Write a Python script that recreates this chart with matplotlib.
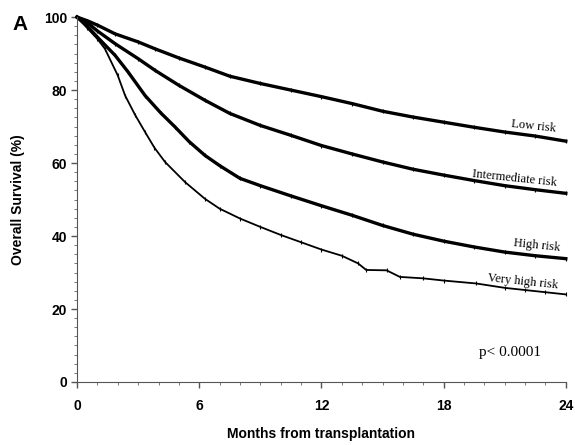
import numpy as np
import matplotlib
matplotlib.use("Agg")
import matplotlib.pyplot as plt
from matplotlib.ticker import MultipleLocator

plt.rcdefaults()

# survival curves (months, % alive)
low_months = [0, 0.5, 1, 1.87, 3, 3.83, 5, 6.28, 7.5, 9, 10.5, 12, 13.5, 15, 16.5, 18, 19.5, 21, 22.5, 24]
low_surv = [100, 99, 97.8, 95.4, 93.2, 91.3, 88.8, 86.3, 83.8, 81.8, 80, 78.2, 76.3, 74.2, 72.6, 71.2, 69.8, 68.5, 67.4, 66.0]

int_months = [0, 0.5, 1, 1.87, 3, 3.83, 5, 6.28, 7.5, 9, 10.5, 12, 13.5, 15, 16.5, 18, 19.5, 21, 22.5, 24]
int_surv = [100, 98.5, 96.2, 92.7, 88.6, 85.4, 81.3, 77.2, 73.6, 70.3, 67.6, 64.8, 62.5, 60.3, 58.3, 56.7, 55.2, 53.8, 52.7, 51.7]

high_months = [0, 0.5, 1, 1.87, 2.5, 3.34, 4.1, 4.81, 5.5, 6.28, 7, 8, 9, 10.5, 12, 13.5, 15, 16.5, 18, 19.5, 21, 22.5, 24]
high_surv = [100, 97.5, 94.5, 89.5, 85, 78.5, 73.8, 69.9, 65.9, 62.1, 59.3, 55.8, 53.8, 51, 48.3, 45.7, 42.9, 40.5, 38.6, 37, 35.6, 34.6, 33.8]

vhigh_months = [0, 0.5, 1, 1.37, 2, 2.36, 2.85, 3.34, 3.8, 4.32, 5.3, 6.28, 7, 8, 9, 10, 11, 12, 13, 13.8, 14.2, 15.2,
                15.85, 17, 18, 19.6, 21, 22, 23, 24]
vhigh_surv = [100, 97, 94, 91.3, 84, 78.5, 73.2, 68.5, 64.2, 60.3, 54.8, 50.2, 47.5, 44.8, 42.5, 40.3, 38.3, 36.3, 34.6,
              32.5, 30.7, 30.6, 28.8, 28.4, 27.8, 27, 25.8, 25.2, 24.6, 24.0]

risk_labels = ["Low risk", "Intermediate risk", "High risk", "Very high risk"]
label_pos = [(22.4, 70.1), (21.5, 55.9), (22.6, 37.5), (21.9, 27.4)]

fig = plt.figure(figsize=(5.75, 4.45), dpi=100)
ax = fig.add_axes([0.134, 0.1416, 0.850, 0.820])

curves = [(low_months, low_surv, 2.4), (int_months, int_surv, 2.4),
          (high_months, high_surv, 2.4), (vhigh_months, vhigh_surv, 1.3)]
for m, s, lw in curves:
    ax.plot(m, s, color="black", lw=lw, clip_on=False, solid_joinstyle="round",
            marker="|", markersize=3.5, markeredgewidth=0.8)

for lab, (x, y) in zip(risk_labels, label_pos):
    ax.text(x, y, lab, fontsize=9, family="Liberation Serif", ha="center",
            va="center", rotation=-6)

ax.text(21.25, 8.2, "p< 0.0001", fontsize=11, family="Liberation Serif",
        ha="center", va="center")

ax.set_xlim(0, 24)
ax.set_ylim(0, 100)
ax.spines["top"].set_visible(False)
ax.spines["right"].set_visible(False)
ax.spines["left"].set_color("#555555")
ax.spines["bottom"].set_color("#555555")

ax.xaxis.set_major_locator(MultipleLocator(6))
ax.xaxis.set_minor_locator(MultipleLocator(1))
ax.yaxis.set_major_locator(MultipleLocator(20))
ax.yaxis.set_minor_locator(MultipleLocator(2.5))
ax.tick_params(which="major", length=4, width=1, color="#555555", pad=8)
ax.tick_params(which="minor", length=2, width=0.7, color="#777777")
for t in ax.get_xticklabels() + ax.get_yticklabels():
    t.set_fontfamily("Liberation Sans")
    t.set_fontweight("bold")
    t.set_fontsize(10)
ax.tick_params(axis="y", pad=3)

ax.set_xlabel("Months from transplantation", fontsize=10, fontweight="bold",
              family="Liberation Sans", labelpad=10)
ax.set_ylabel("Overall Survival (%)", fontsize=10, fontweight="bold",
              family="Liberation Sans", labelpad=14)

fig.text(0.035, 0.945, "A", fontsize=15, fontweight="bold",
         family="Liberation Sans", ha="center", va="center")

fig.savefig("out.png", dpi=100)
